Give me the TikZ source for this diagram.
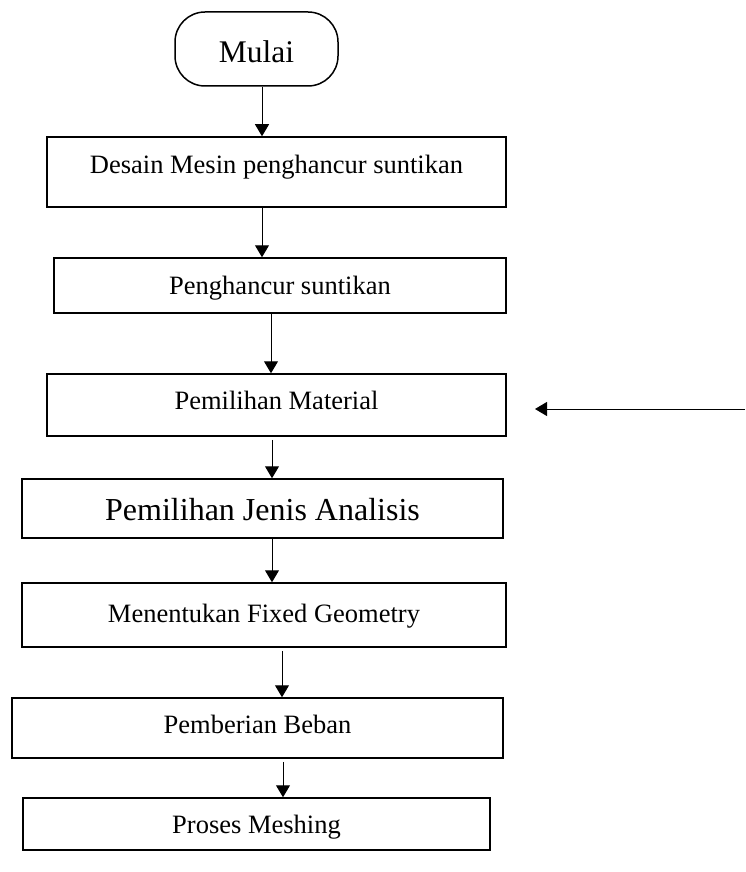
\documentclass[tikz,border=0pt]{standalone}
\usepackage{fontspec}
\setmainfont{Liberation Serif}
\usetikzlibrary{arrows.meta}

\begin{document}
\begin{tikzpicture}[x=1pt,y=-1pt,
  stepbox/.style={draw,line width=1.5pt,rectangle,inner sep=0pt,align=center,
    font=\fontsize{26.5}{30}\selectfont},
  bigtext/.style={font=\fontsize{32}{36}\selectfont},
  terminal/.style={draw,line width=1.5pt,rectangle,rounded corners=30pt,inner sep=0pt,
    font=\fontsize{31.5}{36}\selectfont},
  arr/.style={draw,line width=1pt,-{Triangle[length=12pt,width=14pt]}}]

\useasboundingbox (0,0) rectangle (745,872);

% start terminal
\node[terminal,minimum width=163pt,text height=51pt,text depth=23pt] (mulai) at (256.5,49) {Mulai};

% process steps
\node[stepbox,minimum width=459pt,text height=36pt,text depth=34pt] (desain) at (276.5,172) {Desain Mesin penghancur suntikan};
\node[stepbox,minimum width=452pt,text height=36pt,text depth=19pt] (hancur) at (280,285.5) {Penghancur suntikan};
\node[stepbox,minimum width=459pt,text height=35pt,text depth=27pt] (material) at (276.5,405) {Pemilihan Material};
\node[stepbox,bigtext,minimum width=481pt,text height=41pt,text depth=18pt] (analisis) at (262.5,508.5) {Pemilihan Jenis Analisis};
\node[stepbox,minimum width=484pt,text height=39pt,text depth=25pt] (fixed) at (264,615) {Menentukan Fixed Geometry};
\node[stepbox,minimum width=491pt,text height=35pt,text depth=25pt] (beban) at (257.5,728) {Pemberian Beban};
\node[stepbox,minimum width=467pt,text height=35pt,text depth=17pt] (mesh) at (256.5,824) {Proses Meshing};

% x positions of the vertical connectors
\coordinate (xa) at (262,0);
\coordinate (xb) at (271,0);
\coordinate (xc) at (272,0);
\coordinate (xd) at (282,0);
\coordinate (xe) at (283,0);

\draw[arr] (mulai.south -| xa) -- (desain.north -| xa);
\draw[arr] (desain.south -| xa) -- (hancur.north -| xa);
\draw[arr] (hancur.south -| xb) -- (material.north -| xb);
\draw[arr,shorten <=3pt] (material.south -| xc) -- (analisis.north -| xc);
\draw[arr] (analisis.south -| xc) -- (fixed.north -| xc);
\draw[arr,shorten <=3pt] (fixed.south -| xd) -- (beban.north -| xd);
\draw[arr,shorten <=3pt] (beban.south -| xe) -- (mesh.north -| xe);

% incoming side arrow toward the material step
\coordinate (sidefrom) at (745,409);
\coordinate (sideto) at (535,409);
\draw[arr] (sidefrom) -- (sideto);

\end{tikzpicture}
\end{document}
